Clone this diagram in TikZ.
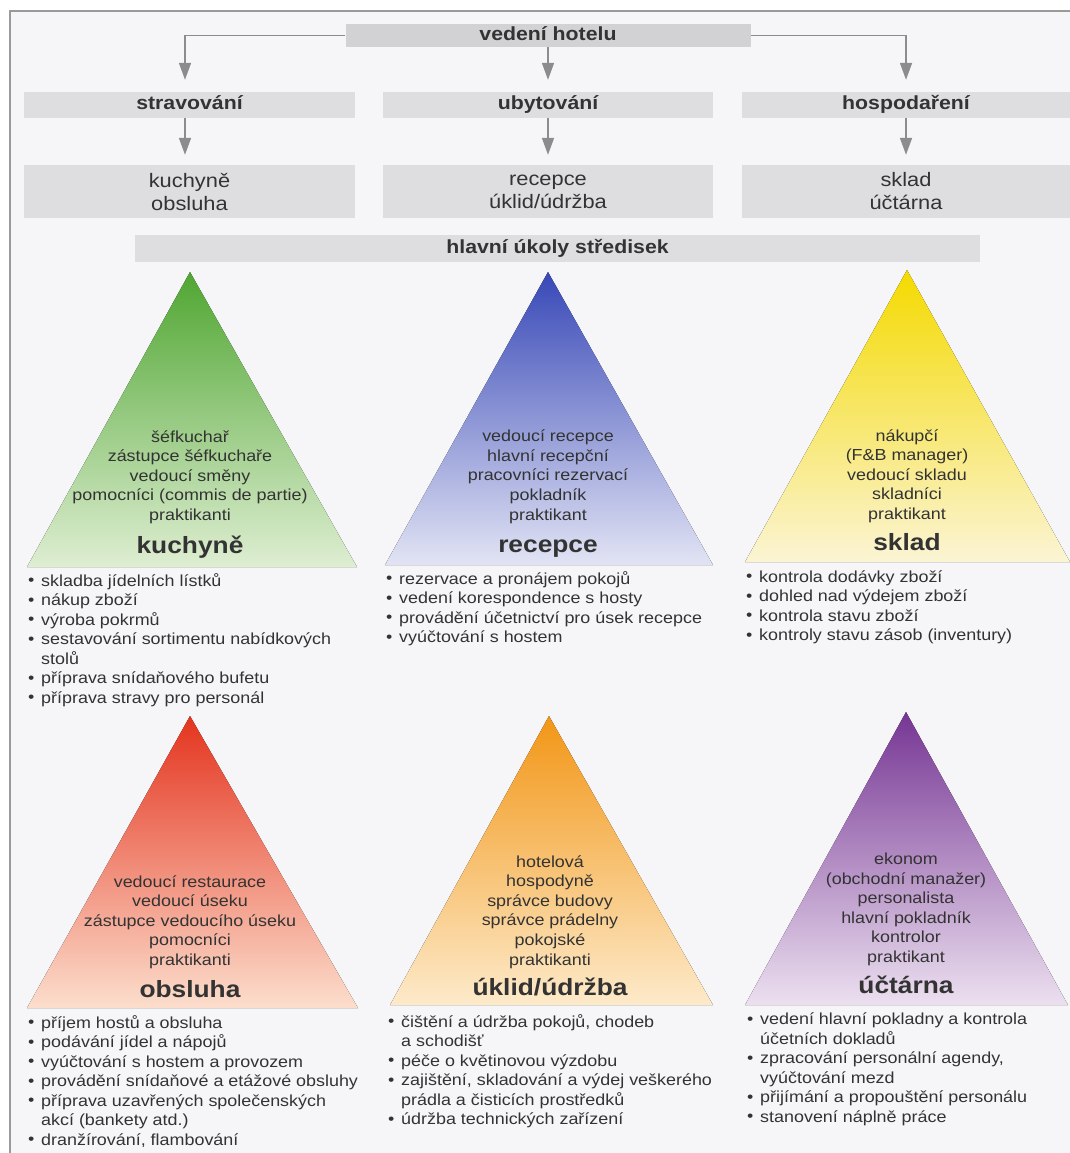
\documentclass[tikz,border=0pt]{standalone}
\usepackage{fontspec}
\setmainfont{Liberation Sans}[FakeStretch=1.12]
\usetikzlibrary{arrows.meta}
\definecolor{txt}{HTML}{333333}
\definecolor{bgc}{HTML}{F6F6F8}
\definecolor{framec}{HTML}{9A9A9A}
\definecolor{boxc}{HTML}{DEDEE0}
\definecolor{topboxc}{HTML}{D2D2D4}
\definecolor{arrc}{HTML}{8C8C8E}
\definecolor{gTop}{RGB}{80,166,50}\definecolor{gMid}{RGB}{150,204,118}\definecolor{gBot}{RGB}{222,238,210}
\definecolor{bTop}{RGB}{56,72,183}\definecolor{bMid}{RGB}{140,150,214}\definecolor{bBot}{RGB}{226,228,244}
\definecolor{yTop}{RGB}{244,218,0}\definecolor{yMid}{RGB}{247,230,110}\definecolor{yBot}{RGB}{251,244,212}
\definecolor{rTop}{RGB}{228,52,30}\definecolor{rMid}{RGB}{240,140,110}\definecolor{rBot}{RGB}{252,222,205}
\definecolor{oTop}{RGB}{242,150,22}\definecolor{oMid}{RGB}{247,192,110}\definecolor{oBot}{RGB}{253,234,202}
\definecolor{pTop}{RGB}{118,54,148}\definecolor{pMid}{RGB}{180,135,196}\definecolor{pBot}{RGB}{236,224,240}
\newcommand{\mybul}{\makebox[13pt][l]{\raisebox{0.3pt}{•}}}
\newcommand{\myind}{\hspace*{13pt}}
\begin{document}
\begin{tikzpicture}[x=1pt,y=-1pt,
  every node/.style={text=txt, inner sep=0pt},
  graybox/.style={fill=boxc, minimum height=26pt},
  topbox/.style={fill=topboxc, minimum width=405pt, minimum height=23pt, text height=13.5pt, text depth=4pt, font=\fontsize{19}{20}\selectfont\bfseries},
  headbox/.style={graybox, text height=13.5pt, text depth=4pt, font=\fontsize{19}{20}\selectfont\bfseries},
  subbox/.style={fill=boxc, minimum height=53pt, align=center, font=\fontsize{19.5}{23}\selectfont},
  arr/.style={draw=arrc, line width=1.7pt, -{Triangle[length=17pt,width=12pt]}},
  roles/.style={align=center, anchor=base, font=\fontsize{16}{19.6}\selectfont},
  ttl/.style={anchor=base, font=\fontsize{23.5}{26}\selectfont\bfseries},
  tasks/.style={align=left, anchor=base west, font=\fontsize{16}{19.5}\selectfont}
]
\useasboundingbox (0,0) rectangle (1070,1153);
\fill[white] (0,0) rectangle (1070,1153);
\fill[bgc] (10,11) rectangle (1070,1153);
\draw[framec, line width=1.5pt] (10,1153) -- (10,11) -- (1070,11);

% top structure
\node[topbox] (vh) at (548,35.5) {vedení hotelu};
\node[headbox, minimum width=331pt] (str) at (189.5,105) {stravování};
\node[headbox, minimum width=330pt] (uby) at (548,105) {ubytování};
\node[headbox, minimum width=328pt] (hos) at (906,105) {hospodaření};
\node[subbox, minimum width=331pt] (s1) at (189.5,191.5) {kuchyně\\obsluha};
\node[subbox, minimum width=330pt] (s2) at (548,191.5) {recepce\\úklid/údržba};
\node[subbox, minimum width=328pt] (s3) at (906,191.5) {sklad\\účtárna};
\node[graybox, minimum width=845pt, minimum height=27pt, text height=13.5pt, text depth=4pt, font=\fontsize{19}{20}\selectfont\bfseries] (hu) at (557.5,248.5) {hlavní úkoly středisek};

\draw[arr, shorten >=12pt] (vh.west) -| ([xshift=-4.5pt]str.north);
\draw[arr, shorten >=12pt] (vh.south) -- (uby.north);
\draw[arr, shorten >=12pt] (vh.east) -| (hos.north);
\draw[arr, shorten >=10pt] ([xshift=-4.5pt]str.south) -- ([xshift=-4.5pt]s1.north);
\draw[arr, shorten >=10pt] (uby.south) -- (s2.north);
\draw[arr, shorten >=10pt] (hos.south) -- (s3.north);

% pyramids
\fill[top color=gTop, middle color=gMid, bottom color=gBot] (190,272) -- (357,567) -- (27,567) -- cycle;
\fill[top color=bTop, middle color=bMid, bottom color=bBot] (548,272) -- (713,565) -- (385,565) -- cycle;
\fill[top color=yTop, middle color=yMid, bottom color=yBot] (907,270) -- (1070,562) -- (745,562) -- cycle;
\fill[top color=rTop, middle color=rMid, bottom color=rBot] (190,716) -- (358,1008) -- (27,1008) -- cycle;
\fill[top color=oTop, middle color=oMid, bottom color=oBot] (549,716) -- (713,1005) -- (390,1005) -- cycle;
\fill[top color=pTop, middle color=pMid, bottom color=pBot] (906,712) -- (1068,1005) -- (745,1005) -- cycle;

% roles (anchor = baseline of last line)
\node[roles] (rk) at (190,520.5) {šéfkuchař\\zástupce šéfkuchaře\\vedoucí směny\\pomocníci (commis de partie)\\praktikanti};
\node[roles] (rr) at (548,520) {vedoucí recepce\\hlavní recepční\\pracovníci rezervací\\pokladník\\praktikant};
\node[roles] (rs) at (907,519.5) {nákupčí\\(F\&B manager)\\vedoucí skladu\\skladníci\\praktikant};
\node[roles] (ro) at (190,965.5) {vedoucí restaurace\\vedoucí úseku\\zástupce vedoucího úseku\\pomocníci\\praktikanti};
\node[roles] (ru) at (550,965) {hotelová\\hospodyně\\správce budovy\\správce prádelny\\pokojské\\praktikanti};
\node[roles] (ra) at (906,962.5) {ekonom\\(obchodní manažer)\\personalista\\hlavní pokladník\\kontrolor\\praktikant};

% titles
\node[ttl] (tk) at (190,553) {kuchyně};
\node[ttl] (tr) at (548,552) {recepce};
\node[ttl] (ts) at (907,550) {sklad};
\node[ttl] (to) at (190,997) {obsluha};
\node[ttl] (tu) at (550,995) {úklid/údržba};
\node[ttl] (ta) at (906,993) {účtárna};

% tasks (anchor = baseline of last line)
\node[tasks] (lk) at (28,703) {\mybul skladba jídelních lístků\\\mybul nákup zboží\\\mybul výroba pokrmů\\\mybul sestavování sortimentu nabídkových\\\myind stolů\\\mybul příprava snídaňového bufetu\\\mybul příprava stravy pro personál};
\node[tasks] (lr) at (386,642.5) {\mybul rezervace a pronájem pokojů\\\mybul vedení korespondence s hosty\\\mybul provádění účetnictví pro úsek recepce\\\mybul vyúčtování s hostem};
\node[tasks] (ls) at (746,640.5) {\mybul kontrola dodávky zboží\\\mybul dohled nad výdejem zboží\\\mybul kontrola stavu zboží\\\mybul kontroly stavu zásob (inventury)};
\node[tasks] (lo) at (28,1145) {\mybul příjem hostů a obsluha\\\mybul podávání jídel a nápojů\\\mybul vyúčtování s hostem a provozem\\\mybul provádění snídaňové a etážové obsluhy\\\mybul příprava uzavřených společenských\\\myind akcí (bankety atd.)\\\mybul dranžírování, flambování};
\node[tasks] (lu) at (388,1124.5) {\mybul čištění a údržba pokojů, chodeb\\\myind a schodišť\\\mybul péče o květinovou výzdobu\\\mybul zajištění, skladování a výdej veškerého\\\myind prádla a čisticích prostředků\\\mybul údržba technických zařízení};
\node[tasks] (la) at (747,1122) {\mybul vedení hlavní pokladny a kontrola\\\myind účetních dokladů\\\mybul zpracování personální agendy,\\\myind vyúčtování mezd\\\mybul přijímání a propouštění personálu\\\mybul stanovení náplně práce};
\end{tikzpicture}
\end{document}
